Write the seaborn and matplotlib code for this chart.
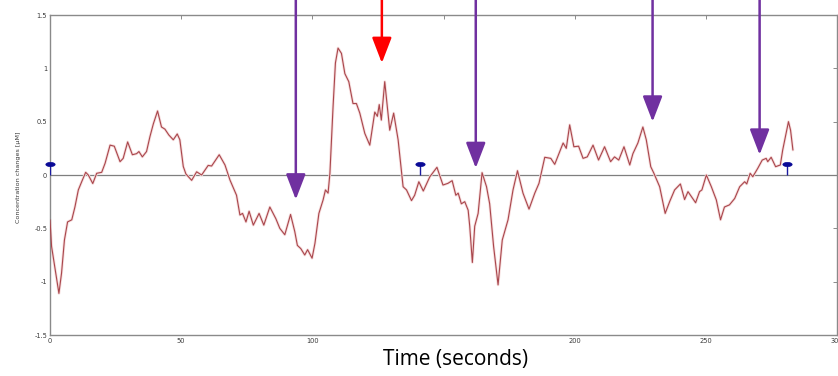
import numpy as np
import pandas as pd
import matplotlib
matplotlib.use("Agg")
import matplotlib.pyplot as plt
import seaborn as sns

# ---------------- data ----------------
time_s = [0, 0.6, 3.4, 4.4, 5.5, 6.7, 8.3, 9.5, 10.8, 12.3, 13.6, 14.6, 16.3, 17.8, 19.7,
          21.0, 22.9, 24.5, 26.7, 27.9, 29.6, 31.4, 33.0, 33.9, 35.2, 36.8, 38.1, 39.4, 41.0,
          42.5, 43.8, 45.3, 47.0, 48.5, 49.5, 50.8, 51.8, 54.0, 55.9, 57.8, 60.3, 61.6, 64.5,
          66.7, 68.6, 71.1, 72.4, 73.4, 74.7, 75.9, 77.5, 79.7, 81.5, 83.8, 86.1, 87.6, 89.5,
          91.7, 93.3, 94.3, 95.6, 97.1, 98.2, 99.9, 101.0, 102.5, 104.1, 105.0, 106.0, 106.7,
          107.9, 108.8, 109.8, 111.1, 112.4, 113.9, 115.5, 116.8, 118.1, 120.0, 121.9, 123.8,
          124.8, 125.5, 126.3, 127.6, 128.6, 129.5, 131.0, 132.7, 134.6, 135.9, 137.8, 139.0,
          140.6, 142.3, 144.8, 147.5, 149.8, 151.7, 153.3, 154.7, 155.6, 156.8, 158.1, 159.4,
          160.0, 161.0, 161.9, 163.2, 164.7, 166.4, 167.6, 169.1, 170.8, 172.4, 174.6, 176.5,
          178.2, 180.3, 182.6, 184.8, 186.4, 188.6, 190.9, 192.4, 195.6, 196.8, 198.1, 199.7,
          201.5, 203.2, 204.8, 207.0, 209.1, 211.4, 213.7, 215.2, 216.8, 218.8, 221.0, 222.2,
          224.1, 226.0, 227.3, 229.0, 230.2, 232.4, 234.5, 236.2, 238.1, 240.3, 241.9, 243.2,
          246.1, 247.6, 248.5, 250.2, 252.1, 254.0, 255.6, 257.1, 259.0, 261.0, 262.9, 264.8,
          265.6, 266.9, 267.9, 269.8, 271.5, 273.0, 273.6, 274.9, 276.6, 278.4, 279.3, 281.5,
          282.3, 283.2]
conc_uM = [-0.42, -0.67, -1.11, -0.92, -0.61, -0.44, -0.42, -0.30, -0.14, -0.05, 0.025, 0.0,
           -0.08, 0.016, 0.025, 0.11, 0.28, 0.27, 0.125, 0.156, 0.31, 0.19, 0.20, 0.22, 0.17,
           0.22, 0.36, 0.48, 0.60, 0.45, 0.43, 0.375, 0.33, 0.385, 0.33, 0.08, 0.01, -0.05, 0.03,
           0.0, 0.09, 0.084, 0.19, 0.094, -0.047, -0.19, -0.375, -0.36, -0.44, -0.34, -0.47,
           -0.36, -0.47, -0.30, -0.41, -0.50, -0.56, -0.37, -0.53, -0.66, -0.69, -0.75, -0.70,
           -0.78, -0.64, -0.36, -0.234, -0.14, -0.17, 0.016, 0.64, 1.05, 1.19, 1.14, 0.95, 0.875,
           0.67, 0.67, 0.58, 0.39, 0.28, 0.59, 0.55, 0.66, 0.515, 0.875, 0.64, 0.42, 0.58, 0.33,
           -0.11, -0.14, -0.24, -0.19, -0.063, -0.15, -0.016, 0.072, -0.094, -0.078, -0.053,
           -0.19, -0.17, -0.27, -0.25, -0.33, -0.48, -0.82, -0.48, -0.36, 0.022, -0.11, -0.27,
           -0.67, -1.03, -0.61, -0.42, -0.14, 0.04, -0.17, -0.32, -0.17, -0.078, 0.166, 0.156,
           0.10, 0.30, 0.25, 0.47, 0.265, 0.27, 0.156, 0.17, 0.28, 0.14, 0.265, 0.125, 0.17,
           0.14, 0.265, 0.094, 0.20, 0.30, 0.45, 0.33, 0.078, 0.016, -0.11, -0.36, -0.25, -0.14,
           -0.084, -0.23, -0.156, -0.26, -0.156, -0.14, 0.0, -0.11, -0.234, -0.42, -0.30, -0.28,
           -0.22, -0.11, -0.063, -0.084, 0.016, -0.016, 0.063, 0.14, 0.156, 0.125, 0.166, 0.078,
           0.094, 0.234, 0.50, 0.42, 0.234]

stem_x = [0, 141, 281]
stem_y = [0.1, 0.1, 0.1]

arrow_x = [93.7, 126.5, 162.3, 229.7, 270.5]
arrow_tip_y = [-0.23, 1.05, 0.065, 0.50, 0.19]
arrow_colors = ["#7030A0", "#FF0000", "#7030A0", "#7030A0", "#7030A0"]

x_ticks = [0, 50, 100, 150, 200, 250, 300]
x_tick_labels = ["0", "50", "100", "", "200", "250", "300"]
y_ticks = [-1.5, -1, -0.5, 0, 0.5, 1, 1.5]
y_tick_labels = ["-1.5", "-1", "-0.5", "0", "0.5", "1", "1.5"]

x_label = "Time (seconds)"
y_label = "Concentration changes [µM]"

df = pd.DataFrame({"t": time_s, "c": conc_uM})

# ---------------- figure ----------------
sns.set_theme(style="white")
plt.rcParams["font.family"] = ["DejaVu Sans"]

fig = plt.figure(figsize=(8.38, 3.76), dpi=100)
ax = fig.add_axes([50 / 838, 1 - 335 / 376, 787 / 838, 320 / 376])

ax.axhline(0, color="#7f7f7f", lw=0.9, zorder=1)

sns.lineplot(data=df, x="t", y="c", ax=ax, color="#f6dddd", lw=2.0,
             estimator=None, sort=False, zorder=2)
sns.lineplot(data=df, x="t", y="c", ax=ax, color="#a9464c", lw=0.8,
             estimator=None, sort=False, zorder=3)

# stems
ax.vlines(stem_x, 0, stem_y, color="#1a1aa0", lw=1.0, zorder=4)
theta = np.linspace(0, 2 * np.pi, 40)
ellipse = np.column_stack([np.cos(theta), 0.45 * np.sin(theta)])
sns.scatterplot(x=stem_x, y=stem_y, ax=ax, marker=ellipse, s=45,
                color="#0a0a96", edgecolor="#0a0a96", linewidth=0.5, zorder=5, clip_on=False)

ax.set_xlim(0, 300)
ax.set_ylim(-1.5, 1.5)
ax.set_xticks(x_ticks)
ax.set_xticklabels(x_tick_labels)
ax.set_yticks(y_ticks)
ax.set_yticklabels(y_tick_labels)

ax.tick_params(direction="in", length=3, width=0.7, colors="#8a8a8a",
               labelcolor="#3a3a3a", labelsize=4.8, top=True, right=True,
               labeltop=False, labelright=False, pad=2)
for s in ax.spines.values():
    s.set_color("#8a8a8a")
    s.set_linewidth(1.0)

ax.set_xlabel(x_label, fontsize=15, family=["Open Sans", "DejaVu Sans"], color="black")
ax.xaxis.set_label_coords(0.515, -0.045)
ax.set_ylabel(y_label, fontsize=4.6, family=["Liberation Sans Narrow", "DejaVu Sans"],
              color="#3a3a3a")
ax.yaxis.set_label_coords(-0.037, 0.494)

# arrows
for xa, ya, col in zip(arrow_x, arrow_tip_y, arrow_colors):
    ax.annotate("", xy=(xa, ya), xycoords="data",
                xytext=(xa, 1.01), textcoords=("data", "figure fraction"),
                arrowprops=dict(arrowstyle="-|>,head_length=1.3,head_width=0.5",
                                mutation_scale=12, lw=1.8, color=col,
                                shrinkA=0, shrinkB=0),
                annotation_clip=False, zorder=6)

fig.savefig("out.png", dpi=100)
